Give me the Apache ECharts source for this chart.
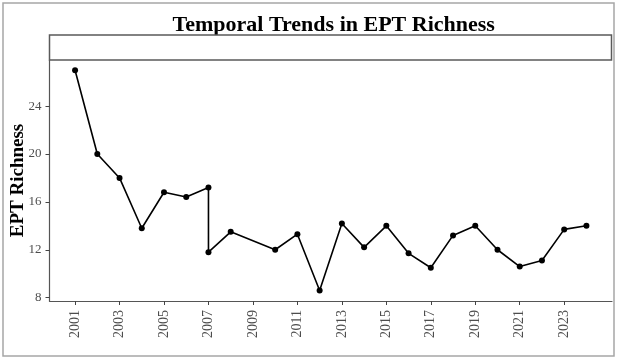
<!DOCTYPE html>
<html>
<head>
<meta charset="utf-8">
<script src="https://cdn.jsdelivr.net/npm/echarts@6/dist/echarts.min.js"></script>
<style>
html,body{margin:0;padding:0;background:#fff;}
#c{width:617px;height:358px;}
</style>
</head>
<body>
<div id="c"></div>
<script>
const years = [2001,2002,2003,2004,2005,2006,2007,2007,2008,2010,2011,2012,2013,2014,2015,2016,2017,2018,2019,2020,2021,2022,2023,2024];
const richness = [27,20,18,13.8,16.8,16.4,17.2,11.8,13.5,12,13.3,8.6,14.2,12.2,14,11.7,10.5,13.2,14,12,10.6,11.1,13.7,14];
const xTicks = [2001,2003,2005,2007,2009,2011,2013,2015,2017,2019,2021,2023];
const yTicks = [8,12,16,20,24];
const titleText = 'Temporal Trends in EPT Richness';
const yName = 'EPT Richness';

const chart = echarts.init(document.getElementById('c'), null, {renderer:'canvas'});
const serif = '"Liberation Serif","Times New Roman",serif';
const gridL = 49.5, gridR = 5, gridT = 60, gridB = 57;
chart.setOption({
  animation:false,
  backgroundColor:'#fff',
  title:{
    text:titleText,
    left: gridL + (617 - gridL - gridR)/2 - 2,
    textAlign:'center',
    top:9,
    textStyle:{fontFamily:serif,fontWeight:'bold',fontSize:22,color:'#000'}
  },
  graphic:[
    {type:'rect',shape:{x:3,y:3,width:611,height:353},style:{fill:null,stroke:'#a6a6a6',lineWidth:1.5},silent:true,z:0},
    {type:'rect',shape:{x:gridL,y:35,width:617-gridL-gridR-0.5,height:25},style:{fill:'#fff',stroke:'#5a5a5a',lineWidth:1.5},silent:true,z:10}
  ],
  grid:{left:gridL,right:gridR,top:gridT,bottom:gridB,containLabel:false,outerBoundsMode:'none'},
  xAxis:{
    type:'value',
    min:1999.85,max:2025.15,
    splitLine:{show:false},
    axisLine:{show:true,onZero:false,lineStyle:{color:'#555',width:1.2}},
    axisTick:{show:true,customValues:xTicks,length:4,lineStyle:{color:'#444'}},
    axisLabel:{customValues:xTicks,rotate:90,margin:9,fontFamily:serif,fontSize:14,color:'#4d4d4d',formatter:v=>String(v)}
  },
  yAxis:{
    type:'value',
    min:7.72,max:27.85,
    name:yName,
    nameLocation:'middle',
    nameGap:22,
    nameMoveOverlap:false,
    nameTextStyle:{fontFamily:serif,fontWeight:'bold',fontSize:19,color:'#000'},
    splitLine:{show:false},
    axisLine:{show:true,onZero:false,lineStyle:{color:'#555',width:1.2}},
    axisTick:{show:true,customValues:yTicks,length:4,lineStyle:{color:'#444'}},
    axisLabel:{customValues:yTicks,margin:8,fontFamily:serif,fontSize:13,color:'#4d4d4d'}
  },
  series:[{
    type:'line',
    data:years.map((y,i)=>[y,richness[i]]),
    symbol:'circle',
    symbolSize:6,
    showSymbol:true,
    lineStyle:{color:'#000',width:1.6},
    itemStyle:{color:'#000'},
    clip:false
  }]
});
</script>
</body>
</html>
